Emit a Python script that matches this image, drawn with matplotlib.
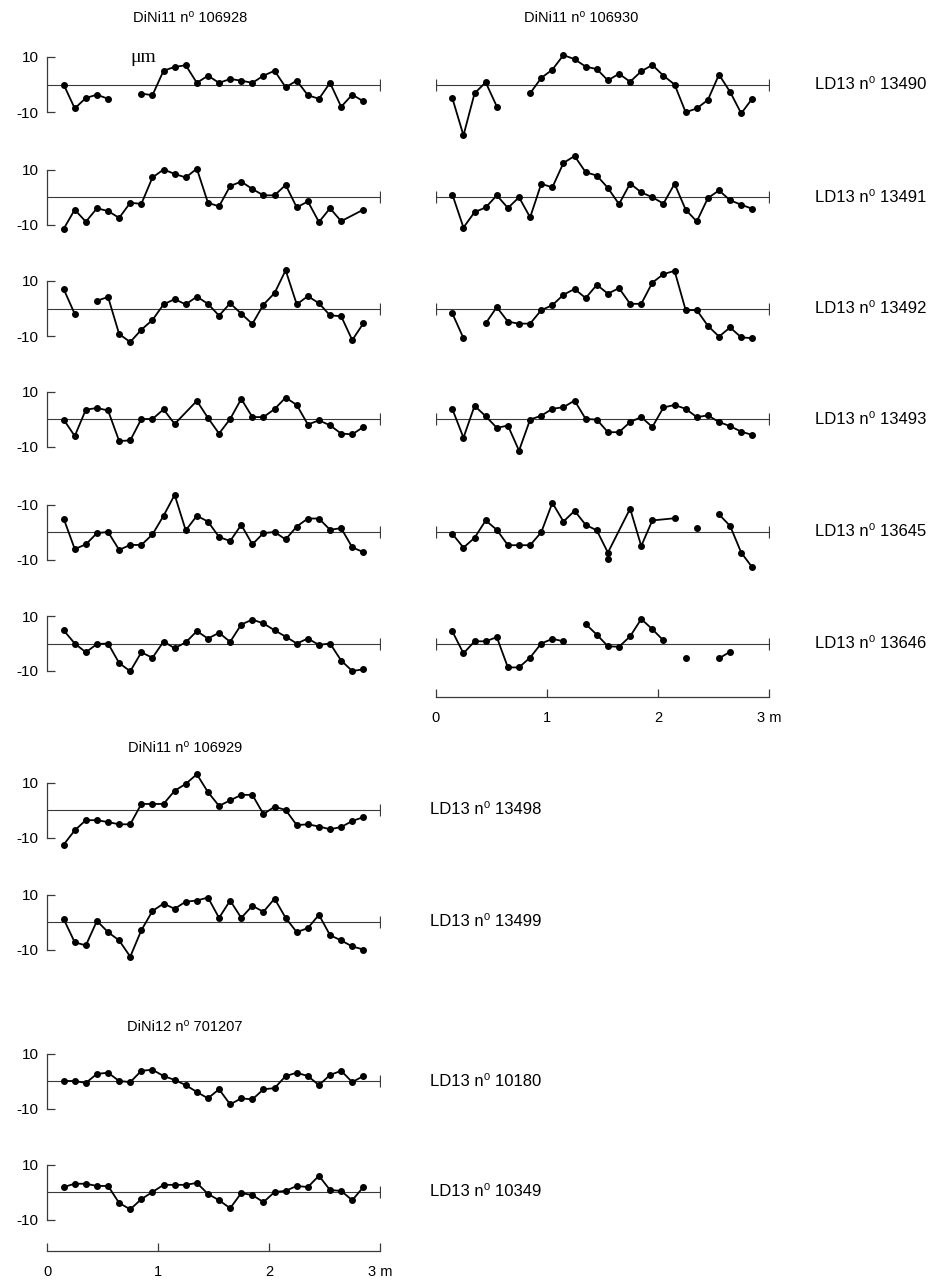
import numpy as np
import matplotlib.pyplot as plt

plt.rcParams['font.family'] = ['Liberation Sans', 'DejaVu Sans']

# === data (µm) ===
# N = missing reading (line breaks), S = missing reading but line joined
N = np.nan
S = None

x_m = [0.15, 0.25, 0.35, 0.45, 0.55, 0.65, 0.75, 0.85, 0.95, 1.05,
       1.15, 1.25, 1.35, 1.45, 1.55, 1.65, 1.75, 1.85, 1.95, 2.05,
       2.15, 2.25, 2.35, 2.45, 2.55, 2.65, 2.75, 2.85]

# DiNi11 no 106928 (left column)
a_13490 = [0.0, -8.7, -4.9, -3.7, -5.2, N, N, -3.3, -3.9, 5.0, 6.4, 7.0, 0.6, 3.2,
           0.6, 2.0, 1.4, 0.6, 3.2, 5.0, -1.0, 1.4, -3.9, -5.2, 0.6, -8.1, -3.7, -6.1]
a_13491 = [-11.6, -4.6, -9.0, -4.1, -5.1, -7.6, -2.1, -2.5, 7.1, 10.0, 8.4, 7.1, 10.3, -2.1,
           -3.4, 4.0, 5.6, 2.9, 0.6, 0.6, 4.4, -3.8, -1.6, -9.1, -4.1, -8.8, S, -4.6]
a_13492 = [7.1, -2.0, N, 2.8, 4.2, -9.3, -12.2, -7.7, -4.2, 1.5, 3.4, 1.5, 4.3, 1.7,
           -2.6, 1.9, -1.9, -5.6, 1.4, 5.6, 13.9, 1.5, 4.5, 1.9, -2.5, -2.8, -11.5, -5.4]
a_13493 = [-0.2, -6.2, 3.4, 4.0, 3.1, -8.0, -7.8, 0.0, 0.0, 3.5, -1.8, S, 6.6, 0.4,
           -5.3, 0.0, 7.3, 0.7, 0.7, 3.6, 7.8, 5.1, -2.0, -0.5, -2.3, -5.3, -5.6, -2.9]
a_13645 = [4.9, -6.2, -4.5, -0.4, 0.0, -6.5, -4.7, -4.7, -0.9, 5.9, 13.5, 0.6, 5.9, 3.8,
           -1.8, -3.3, 2.6, -4.5, -0.4, 0.0, -2.7, 2.0, 4.9, 4.9, 0.8, 1.4, -5.6, -7.3]
a_13646 = [4.8, 0.0, -3.2, -0.2, 0.0, -7.1, -10.1, -3.2, -5.2, 0.7, -1.7, 0.4, 4.5, 1.8,
           3.9, 0.6, 6.9, 8.7, 7.3, 4.8, 2.5, 0.0, 1.8, -0.5, 0.0, -6.2, -10.0, -9.4]

# DiNi11 no 106930 (right column)
b_13490 = [-5.0, -18.5, -3.2, 0.8, -8.0, N, N, -3.2, 2.4, 5.4, 10.7, 9.2, 6.5, 5.6,
           1.5, 3.9, 1.0, 4.8, 7.1, 3.2, 0.0, -10.1, -8.7, -5.6, 3.6, -2.7, -10.5, -5.1]
b_13491 = [0.9, -11.1, -5.5, -3.8, 0.6, -4.0, -0.1, -7.4, 4.8, 3.5, 12.4, 14.9, 9.0, 7.8,
           3.3, -2.6, 4.9, 1.7, -0.1, -2.4, 4.8, -4.6, -8.9, -0.4, 2.4, -1.2, -2.8, -4.3]
b_13492 = [-1.8, -10.8, N, -5.4, 0.5, -4.8, -5.5, -5.5, -0.6, 1.2, 5.0, 7.1, 3.8, 8.6,
           5.4, 7.4, 1.7, 1.7, 9.4, 12.5, 13.7, -0.6, -0.6, -6.3, -10.2, -6.9, -10.5, -10.8]
b_13493 = [3.6, -6.8, 4.8, 1.0, -3.2, -2.4, -11.5, -0.2, 1.2, 3.7, 4.3, 6.7, 0.0, -0.2,
           -4.8, -4.8, -1.1, 0.7, -2.9, 4.2, 5.1, 3.7, 0.7, 1.3, -1.1, -2.6, -4.6, -5.8]
b_13645 = [-0.7, -5.7, -2.1, 4.2, 0.8, -4.8, -4.8, -4.8, -0.1, 10.6, 3.8, 7.7, 2.6, 0.6,
           -7.5, S, 8.5, -5.1, 4.2, S, 5.0, N, 1.4, N, 6.4, 2.2, -7.5, -12.9]
b_13645_extra_x = [1.55]
b_13645_extra_y = [-9.9]
b_13646 = [4.4, -3.6, 0.8, 0.8, 2.3, -8.7, -8.7, -5.1, 0.0, 1.7, 0.8, N, 7.1, 3.2,
           -1.0, -1.2, 2.6, 8.9, 5.2, 1.1, N, -5.1, N, N, -5.4, -3.0, N, N]

# DiNi11 no 106929
c_13498 = [-12.6, -7.4, -3.7, -3.7, -4.4, -5.2, -5.2, 2.2, 2.2, 2.2, 7.0, 9.5, 13.0, 6.5,
           1.5, 3.5, 5.5, 5.5, -1.5, 1.2, 0.0, -5.5, -5.2, -6.0, -7.0, -6.2, -4.0, -2.6]
c_13499 = [1.1, -7.4, -8.5, 0.4, -3.7, -6.7, -12.6, -3.0, 4.0, 6.7, 4.8, 7.4, 7.8, 8.9,
           1.5, 7.8, 1.5, 5.9, 3.7, 8.5, 1.5, -3.7, -2.2, 2.6, -4.8, -6.7, -8.9, -10.0]

# DiNi12 no 701207
d_10180 = [0.0, 0.0, -0.7, 2.6, 3.0, 0.0, -0.4, 3.7, 4.1, 1.8, 0.4, -1.5, -4.0, -6.3,
           -3.0, -8.5, -6.3, -6.7, -3.0, -2.6, 1.8, 3.0, 1.8, -1.5, 2.2, 3.7, -0.4, 1.8]
d_10349 = [1.8, 3.0, 3.0, 2.2, 2.2, -4.0, -6.3, -2.6, 0.0, 2.6, 2.6, 2.6, 3.3, -0.7,
           -3.0, -5.9, -0.4, -1.1, -3.7, 0.0, 0.4, 2.2, 1.8, 5.9, 0.7, 0.4, -3.0, 1.8]

upper_labels = ['13490', '13491', '13492', '13493', '13645', '13646']
upper_left = [a_13490, a_13491, a_13492, a_13493, a_13645, a_13646]
upper_right = [b_13490, b_13491, b_13492, b_13493, b_13645, b_13646]
left_ticklabels = [('-10', '10')] * 4 + [('-10', '-10'), ('-10', '10')]

# === layout (pixels) ===
W, H = 935, 1280
LEFT = (47, 380)
RIGHT = (435.7, 769)
upper_rows = [84.5, 197, 308.5, 419, 532, 643.5]
GRAY = '#3a3a3a'

fig = plt.figure(figsize=(W / 100, H / 100), dpi=100)


def add_panel(cols, yc, half=55):
    x0, x1 = cols
    return fig.add_axes([x0 / W, 1 - (yc + half) / H, (x1 - x0) / W, 2 * half / H])


def draw(ax, vals, spine=True, ticklabels=('-10', '10'), both_ends=False):
    ax.set_xlim(0, 3)
    ax.set_ylim(-20, 20)
    ax.patch.set_visible(False)
    for s in ['top', 'right', 'bottom']:
        ax.spines[s].set_visible(False)
    ax.set_xticks([])
    if spine:
        ax.spines['left'].set_bounds(-10, 10)
        ax.spines['left'].set_color(GRAY)
        ax.spines['left'].set_linewidth(0.9)
        ax.set_yticks([-10, 10])
        ax.set_yticklabels(ticklabels)
        ax.tick_params(axis='y', direction='in', length=6, width=0.9, color=GRAY,
                       pad=6, labelsize=11)
    else:
        ax.spines['left'].set_visible(False)
        ax.set_yticks([])
    # zero line with end ticks
    ax.plot([0, 3], [0, 0], color=GRAY, lw=0.8)
    ends = [0, 3] if both_ends else [3]
    ax.plot(ends, [0] * len(ends), ls='none', marker='|', ms=9, mew=0.9, color=GRAY)
    # profile
    xs = [x for x, v in zip(x_m, vals) if v is not None]
    ys = [v for v in vals if v is not None]
    ax.plot(xs, ys, color='black', lw=1.3, marker='o', ms=4, clip_on=False)
    return ax


def scale_axis(cols, y):
    x0, x1 = cols
    ax = fig.add_axes([x0 / W, 1 - y / H, (x1 - x0) / W, 1 / H])
    ax.set_xlim(0, 3)
    ax.set_yticks([])
    ax.patch.set_visible(False)
    for s in ['top', 'left', 'right']:
        ax.spines[s].set_visible(False)
    ax.spines['bottom'].set_color(GRAY)
    ax.spines['bottom'].set_linewidth(0.9)
    ax.set_xticks([0, 1, 2, 3])
    ax.set_xticklabels(['0', '1', '2', '3 m'])
    ax.tick_params(axis='x', direction='in', length=6, width=0.9, color=GRAY,
                   pad=10, labelsize=10.5)


def ftext(x, y, s, **kw):
    fig.text(x / W, 1 - y / H, s, va='center', **kw)


# upper block: two instruments, six staffs
for yc, lab, lv, rv, tl in zip(upper_rows, upper_labels, upper_left, upper_right,
                               left_ticklabels):
    draw(add_panel(LEFT, yc), lv, ticklabels=tl)
    axr = draw(add_panel(RIGHT, yc), rv, spine=False, both_ends=True)
    if lab == '13645':
        axr.plot(b_13645_extra_x, b_13645_extra_y, ls='none', marker='o', ms=4,
                 color='black', clip_on=False)
    ftext(815, yc, 'LD13 n⁰ ' + lab, fontsize=12)

scale_axis(RIGHT, 697)

ftext(190, 18, 'DiNi11 n⁰ 106928', ha='center', fontsize=10.5)
ftext(581, 18, 'DiNi11 n⁰ 106930', ha='center', fontsize=10.5)
ftext(130, 57, 'μm', family='Liberation Serif', fontsize=14)

# lower block
lower = [(810, c_13498, '13498'), (922, c_13499, '13499'),
         (1081, d_10180, '10180'), (1192, d_10349, '10349')]
for yc, vals, lab in lower:
    draw(add_panel(LEFT, yc), vals)
    ftext(430, yc, 'LD13 n⁰ ' + lab, fontsize=12)

ftext(185, 748, 'DiNi11 n⁰ 106929', ha='center', fontsize=10.5)
ftext(185, 1027, 'DiNi12 n⁰ 701207', ha='center', fontsize=10.5)

scale_axis(LEFT, 1251)

fig.savefig('out.png', dpi=100)
